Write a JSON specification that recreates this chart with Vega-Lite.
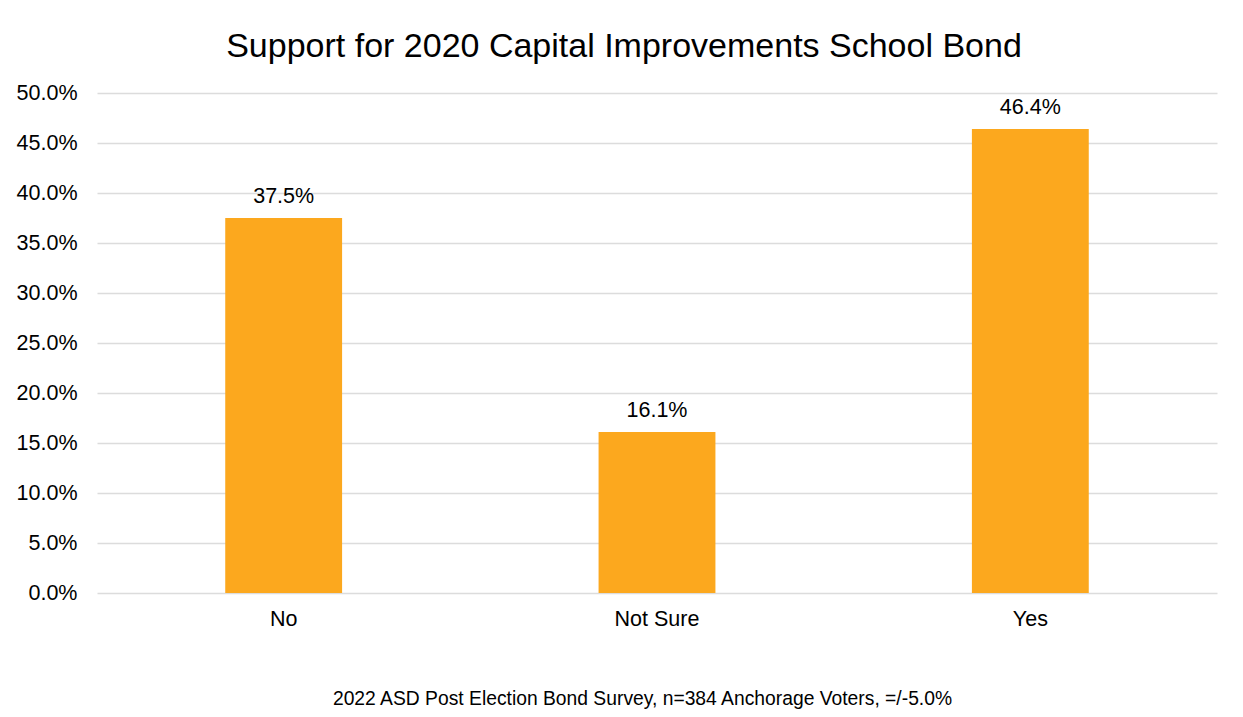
{
  "$schema": "https://vega.github.io/schema/vega-lite/v6.json",
  "width": 1120,
  "height": 500,
  "autosize": "none",
  "padding": {"left": 97, "top": 93, "right": 26, "bottom": 124},
  "background": "white",
  "config": {
    "view": {"stroke": null},
    "font": "Liberation Sans"
  },
  "title": {
    "text": "Support for 2020 Capital Improvements School Bond",
    "fontSize": 34,
    "fontWeight": "normal",
    "color": "#000000",
    "anchor": "middle",
    "frame": "group",
    "baseline": "alphabetic",
    "offset": 36,
    "dx": -33,
    "dy": 45
  },
  "data": {
    "values": [
      {"answer": "No", "share": 0.375},
      {"answer": "Not Sure", "share": 0.161},
      {"answer": "Yes", "share": 0.464}
    ]
  },
  "encoding": {
    "x": {
      "field": "answer",
      "type": "nominal",
      "sort": null,
      "scale": {"paddingInner": 0.687, "paddingOuter": 0.3435},
      "axis": {
        "title": "2022 ASD Post Election Bond Survey, n=384 Anchorage Voters, =/-5.0%",
        "titleFontSize": 19.3,
        "titleFontWeight": "normal",
        "titleColor": "#000000",
        "titleBaseline": "alphabetic",
        "titleX": 545,
        "titleY": 111,
        "titleAnchor": "middle",
        "titleAlign": "center",
        "labelAngle": 0,
        "labelFontSize": 21.5,
        "labelColor": "#000000",
        "labelPadding": 15,
        "domain": false,
        "ticks": false,
        "grid": false
      }
    },
    "y": {
      "field": "share",
      "type": "quantitative",
      "scale": {"domain": [0, 0.5], "nice": false},
      "axis": {
        "title": null,
        "values": [0, 0.05, 0.1, 0.15, 0.2, 0.25, 0.3, 0.35, 0.4, 0.45, 0.5],
        "format": ".1%",
        "labelFontSize": 21.5,
        "labelColor": "#000000",
        "labelPadding": 20,
        "domain": false,
        "ticks": false,
        "grid": true,
        "gridColor": "#dcdcdc",
        "gridWidth": 1.5
      }
    }
  },
  "layer": [
    {"mark": {"type": "bar", "color": "#FCA81E"}},
    {
      "mark": {"type": "text", "fontSize": 21.5, "color": "#000000", "baseline": "alphabetic", "dy": -15},
      "encoding": {
        "text": {"field": "share", "type": "quantitative", "format": ".1%"}
      }
    }
  ]
}
